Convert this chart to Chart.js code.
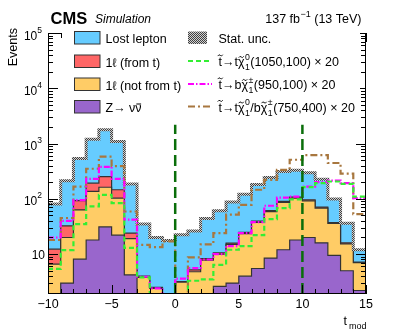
<!DOCTYPE html>
<html>
<head>
<meta charset="utf-8">
<script src="https://cdn.jsdelivr.net/npm/chart.js@4/dist/chart.umd.min.js"></script>
<style>
  html, body { margin: 0; padding: 0; background: #fff; }
  canvas { display: block; }
</style>
</head>
<body>
<canvas id="chart-tmod" width="407" height="335"></canvas>
<script>
/* Histogram binning: 25 bins of width 1 from -10 to 15 */
const binEdges = [-10, -9, -8, -7, -6, -5, -4, -3, -2, -1, 0, 1, 2, 3, 4, 5, 6, 7, 8, 9, 10, 11, 12, 13, 14, 15];

// Background contributions per bin (stacked: Z first, lost lepton on top)
const zinv          = [1.2, 3.0, 8.1, 18, 31, 22, 4.2, 1.0, 1.0, 0.8, 1.0, 1.2, 1.5, 2.6, 3.0, 4.0, 5.5, 8.5, 12, 18, 20, 16, 9.5, 5.0, 2.2];
const oneLepNotTop  = [5.4, 17, 55, 118, 131, 81, 14.8, 2.8, 1.4, 0.7, 2.1, 3.6, 6.3, 7.4, 12, 19.5, 32, 50, 74, 85, 72, 52, 26.5, 10.3, 4.8];
const oneLepFromTop = [5.7, 12.5, 30, 56, 91, 43, 5, 0.2, 0.1, 0.1, 0.1, 0.4, 0.5, 0.6, 0.8, 1.2, 2, 3, 4, 5, 4, 3, 1, 0.7, 0.2];
const lostLepton    = [68, 180, 442, 1008, 1517, 944, 161, 31, 17.5, 16, 19.3, 21, 36, 50, 72, 97, 143, 182, 222, 222, 199, 156, 62, 20, 4.8];

// Signal models (already scaled x20)
const sigT1050 = [5.4, 11.8, 35, 73, 118, 84, 13, 3.8, 1.5, 1.5, 1.5, 3.3, 3.5, 6.4, 12, 14, 22, 43, 68, 98, 163, 192, 206, 187, 110];
const sigB950  = [20, 40, 95, 230, 380, 230, 42, 3.9, 2.4, 1.5, 3.6, 5.6, 8, 10, 14, 24, 38, 75, 105, 110, 167, 200, 214, 192, 103];
const sigMix750 = [18, 45, 167, 350, 582, 390, 59, 14.7, 13.4, 17, 1.5, 8.7, 15, 24, 52, 78, 146, 220, 335, 510, 620, 620, 445, 285, 53];

// Selection cuts drawn as vertical lines
const cutValues = [0, 10];
const cutLineTop = 2200;

const yTickValues = [10, 100, 1000, 10000, 100000];
const xTickLabels = [-10, -5, 0, 5, 10, 15];

const FONT = '"Liberation Sans", Arial, sans-serif';
const Y_MIN = 1.9, Y_MAX = 1.0e5;

// turn per-bin values into step points at the bin edges
function hist(vals) {
    return binEdges.map((x, i) => ({ x: x, y: vals[Math.min(i, vals.length - 1)] }));
}

// cumulative stack
const stackParts = [zinv, oneLepNotTop, oneLepFromTop, lostLepton];
const stackColors = ['#9966cc', '#ffcc66', '#ff6666', '#66ccff'];
const stackTops = [];
let running = zinv.map(() => 0);
stackParts.forEach(part => {
    running = running.map((v, i) => v + part[i]);
    stackTops.push(running);
});

/* Hatch pattern for stat. unc. */
function makeHatch() {
    const c = document.createElement('canvas');
    c.width = 2; c.height = 2;
    const g = c.getContext('2d');
    g.fillStyle = '#d0d0d0'; g.fillRect(0, 0, 2, 2);
    g.fillStyle = '#404040'; g.fillRect(0, 0, 1, 1); g.fillRect(1, 1, 1, 1);
    return g.createPattern(c, 'repeat');
}
const hatch = makeHatch();

const datasets = [];
stackTops.forEach((top, i) => {
    datasets.push({
        data: hist(top),
        stepped: 'before',
        backgroundColor: stackColors[i],
        borderColor: '#333333',
        borderWidth: 1.2,
        fill: i === 0 ? 'start' : i - 1,
        pointRadius: 0,
        order: 10
    });
});
// stat. unc. band on top of total
datasets.push({
    data: hist(stackTops[3]),
    stepped: 'before',
    borderColor: hatch,
    borderWidth: 3,
    fill: false,
    pointRadius: 0,
    order: 6
});

const signals = [
    { vals: sigT1050, color: '#33ee33', dash: [5, 3] },
    { vals: sigB950, color: '#ff00ff', dash: [6, 2, 1.5, 2] },
    { vals: sigMix750, color: '#a8773f', dash: [7, 3, 2, 3] }
];
signals.forEach(s => {
    datasets.push({
        data: hist(s.vals),
        stepped: 'before',
        borderColor: s.color,
        borderDash: s.dash,
        borderWidth: 2.2,
        fill: false,
        pointRadius: 0,
        order: 3
    });
});
cutValues.forEach(c => {
    datasets.push({
        data: [{ x: c, y: Y_MIN }, { x: c, y: cutLineTop }],
        borderColor: '#0a6e0a',
        borderDash: [11, 5],
        borderWidth: 2.5,
        fill: false,
        pointRadius: 0,
        order: 1
    });
});

// draw text made of parts: plain, tilde, bar, sub/sup pairs
function richText(ctx, x, y, parts, size) {
    ctx.textAlign = 'left';
    ctx.textBaseline = 'alphabetic';
    for (const p of parts) {
        if (p.sup !== undefined || p.sub !== undefined) {
            ctx.font = (size * 0.7) + 'px ' + FONT;
            let w = 0;
            if (p.sup) { ctx.fillText(p.sup, x + 0.5, y - size * 0.5); w = Math.max(w, ctx.measureText(p.sup).width); }
            if (p.sub) { ctx.fillText(p.sub, x + 0.5, y + size * 0.32); w = Math.max(w, ctx.measureText(p.sub).width); }
            x += w + 1;
            continue;
        }
        ctx.font = (p.italic ? 'italic ' : '') + (p.bold ? 'bold ' : '') + size + 'px ' + FONT;
        ctx.fillText(p.t, x, y);
        const w = ctx.measureText(p.t).width;
        if (p.tilde) {
            const cx = x + w / 2, cy = y - size * p.tilde, tw = 5;
            ctx.save();
            ctx.lineWidth = 0.9;
            ctx.strokeStyle = ctx.fillStyle;
            ctx.beginPath();
            ctx.moveTo(cx - tw / 2, cy + 0.7);
            ctx.quadraticCurveTo(cx - tw / 4, cy - 1.6, cx, cy);
            ctx.quadraticCurveTo(cx + tw / 4, cy + 1.6, cx + tw / 2, cy - 0.7);
            ctx.stroke();
            ctx.restore();
        }
        if (p.bar) {
            ctx.fillRect(x + 1, y - size * 0.68, w - 1.5, 1);
        }
        x += w;
    }
    return x;
}

const decorations = {
    id: 'rootStyle',
    afterDraw(chart) {
        const ctx = chart.ctx;
        const a = chart.chartArea;
        const xs = chart.scales.x, ys = chart.scales.y;
        ctx.save();

        // frame
        ctx.strokeStyle = '#000';
        ctx.lineWidth = 1;
        ctx.strokeRect(a.left + 0.5, a.top + 0.5, a.right - a.left - 1, a.bottom - a.top - 1);

        // x ticks (inside, bottom and top)
        ctx.beginPath();
        for (let v = xs.min; v <= xs.max; v++) {
            const px = Math.round(xs.getPixelForValue(v)) + 0.5;
            const len = (v % 5 === 0) ? 9 : 5;
            ctx.moveTo(px, a.bottom); ctx.lineTo(px, a.bottom - len);
            ctx.moveTo(px, a.top); ctx.lineTo(px, a.top + len);
        }
        // y ticks (inside, left and right)
        for (let e = 0; e <= 5; e++) {
            for (let m = 1; m <= 9; m++) {
                const v = m * Math.pow(10, e);
                if (v < ys.min || v > ys.max * 1.001) continue;
                const py = Math.round(ys.getPixelForValue(v)) + 0.5;
                const len = m === 1 ? 10 : 5;
                ctx.moveTo(a.left, py); ctx.lineTo(a.left + len, py);
                ctx.moveTo(a.right, py); ctx.lineTo(a.right - len, py);
            }
        }
        ctx.stroke();

        // x tick labels
        ctx.fillStyle = '#000';
        ctx.font = '12.5px ' + FONT;
        ctx.textAlign = 'center';
        ctx.textBaseline = 'alphabetic';
        xTickLabels.forEach(v => {
            const label = v < 0 ? '\u2212' + Math.abs(v) : String(v);
            ctx.fillText(label, xs.getPixelForValue(v), 307.5);
        });

        // y tick labels: 10, 10^2 ...
        yTickValues.forEach(v => {
            const e = Math.round(Math.log10(v));
            const py = ys.getPixelForValue(v);
            ctx.textAlign = 'right';
            if (e === 1) {
                ctx.font = '12px ' + FONT;
                ctx.fillText('10', 45, py + 4.5);
            } else {
                ctx.font = '8.5px ' + FONT;
                const ew = ctx.measureText(String(e)).width;
                ctx.fillText(String(e), 42, py - 0.5);
                ctx.font = '12px ' + FONT;
                ctx.fillText('10', 42 - ew, py + 6.5);
            }
        });

        // axis titles
        ctx.save();
        ctx.translate(17, 28);
        ctx.rotate(-Math.PI / 2);
        ctx.font = '12.5px ' + FONT;
        ctx.textAlign = 'right';
        ctx.fillText('Events', 0, 0);
        ctx.restore();

        ctx.textAlign = 'left';
        ctx.font = '12.5px ' + FONT;
        ctx.fillText('t', 343.5, 325);
        ctx.font = '9px ' + FONT;
        ctx.fillText('mod', 349, 329);

        // header
        ctx.font = 'bold 16.5px ' + FONT;
        ctx.fillText('CMS', 50.5, 23.5);
        ctx.font = 'italic 12px ' + FONT;
        ctx.fillText('Simulation', 95, 23);
        ctx.textAlign = 'right';
        ctx.font = '12.5px ' + FONT;
        ctx.fillText('(13 TeV)', 361.5, 23);
        let x0 = 361.5 - ctx.measureText('(13 TeV)').width - 3.5;
        ctx.font = '9px ' + FONT;
        ctx.fillText('\u22121', x0, 17);
        x0 -= ctx.measureText('\u22121').width + 0.5;
        ctx.font = '12.5px ' + FONT;
        ctx.fillText('137 fb', x0, 23);

        // legend background hides the top frame under it
        ctx.fillStyle = '#fff';
        ctx.fillRect(62, 26, 298, 92);

        // legend, left column
        const rows = [37.5, 61, 84, 106.5];
        const leftLabels = [
            [{ t: 'Lost lepton' }],
            [{ t: '1\u2113 (from t)' }],
            [{ t: '1\u2113 (not from t)' }],
            [{ t: 'Z\u2192 \u03bd' }, { t: '\u03bd', bar: true }]
        ];
        const legendColors = [stackColors[3], stackColors[2], stackColors[1], stackColors[0]];
        rows.forEach((cy, i) => {
            ctx.fillStyle = legendColors[i];
            ctx.fillRect(74.5, cy - 6, 25.5, 12.5);
            ctx.strokeStyle = '#333';
            ctx.lineWidth = 1;
            ctx.strokeRect(74.5, cy - 6, 25.5, 12.5);
            ctx.fillStyle = '#000';
            richText(ctx, 105.5, cy + 5.5, leftLabels[i], 12.5);
        });

        // legend, right column
        ctx.fillStyle = hatch;
        ctx.fillRect(188, rows[0] - 6, 19, 12.5);
        ctx.fillStyle = '#000';
        richText(ctx, 218.5, rows[0] + 5.5, [{ t: 'Stat. unc.' }], 12.5);

        const chi0 = [{ t: '\u03c7', tilde: 0.72 }, { sup: '0', sub: '1' }];
        const chiPm = [{ t: '\u03c7', tilde: 0.72 }, { sup: '\u00b1', sub: '1' }];
        const stop = [{ t: 't', tilde: 0.85 }, { t: '\u2192' }];
        const sigLabels = [
            stop.concat([{ t: 't' }], chi0, [{ t: '(1050,100) \u00d7 20' }]),
            stop.concat([{ t: 'b' }], chiPm, [{ t: '(950,100) \u00d7 20' }]),
            stop.concat([{ t: 't' }], chi0, [{ t: '/b' }], chiPm, [{ t: '(750,400) \u00d7 20' }])
        ];
        signals.forEach((s, i) => {
            const cy = rows[i + 1];
            ctx.save();
            ctx.strokeStyle = s.color;
            ctx.lineWidth = 2.2;
            ctx.setLineDash(s.dash);
            ctx.beginPath();
            ctx.moveTo(188, cy); ctx.lineTo(212, cy);
            ctx.stroke();
            ctx.restore();
            ctx.fillStyle = '#000';
            richText(ctx, 218.5, cy + 5, sigLabels[i], 12.5);
        });

        ctx.restore();
    }
};

new Chart(document.getElementById('chart-tmod'), {
    type: 'line',
    data: { datasets: datasets },
    options: {
        responsive: false,
        animation: false,
        devicePixelRatio: 1,
        layout: { padding: { left: 48, right: 41, top: 33, bottom: 41 } },
        plugins: {
            legend: { display: false },
            tooltip: { enabled: false }
        },
        scales: {
            x: { type: 'linear', min: -10, max: 15, display: false },
            y: { type: 'logarithmic', min: Y_MIN, max: Y_MAX, display: false }
        }
    },
    plugins: [decorations]
});
</script>
</body>
</html>
